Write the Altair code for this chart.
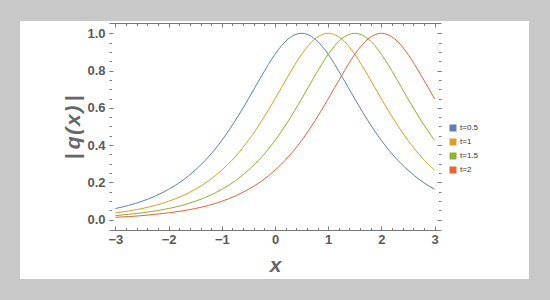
import altair as alt
import pandas as pd

# ---- data ----
x_vals = [-3.0, -2.75, -2.5, -2.25, -2.0, -1.75, -1.5, -1.25, -1.0, -0.75, -0.5, -0.25,
          0.0, 0.25, 0.5, 0.75, 1.0, 1.25, 1.5, 1.75, 2.0, 2.25, 2.5, 2.75, 3.0]
q_t05 = [0.060, 0.077, 0.099, 0.127, 0.163, 0.208, 0.266, 0.337, 0.425, 0.530, 0.648, 0.772,
         0.887, 0.970, 1.000, 0.970, 0.887, 0.772, 0.648, 0.530, 0.425, 0.337, 0.266, 0.208, 0.163]
q_t1 = [0.037, 0.047, 0.060, 0.077, 0.099, 0.127, 0.163, 0.208, 0.266, 0.337, 0.425, 0.530,
        0.648, 0.772, 0.887, 0.970, 1.000, 0.970, 0.887, 0.772, 0.648, 0.530, 0.425, 0.337, 0.266]
q_t15 = [0.022, 0.029, 0.037, 0.047, 0.060, 0.077, 0.099, 0.127, 0.163, 0.208, 0.266, 0.337,
         0.425, 0.530, 0.648, 0.772, 0.887, 0.970, 1.000, 0.970, 0.887, 0.772, 0.648, 0.530, 0.425]
q_t2 = [0.013, 0.017, 0.022, 0.029, 0.037, 0.047, 0.060, 0.077, 0.099, 0.127, 0.163, 0.208,
        0.266, 0.337, 0.425, 0.530, 0.648, 0.772, 0.887, 0.970, 1.000, 0.970, 0.887, 0.772, 0.648]
series_labels = ["t=0.5", "t=1", "t=1.5", "t=2"]
series_colors = ["#5E81B5", "#E19C24", "#8FB032", "#EB6235"]
x_major = [-3, -2, -1, 0, 1, 2, 3]
x_minor = [-3.0, -2.8, -2.6, -2.4, -2.2, -2.0, -1.8, -1.6, -1.4, -1.2, -1.0, -0.8, -0.6, -0.4, -0.2,
           0.0, 0.2, 0.4, 0.6, 0.8, 1.0, 1.2, 1.4, 1.6, 1.8, 2.0, 2.2, 2.4, 2.6, 2.8, 3.0]
y_major = [0.0, 0.2, 0.4, 0.6, 0.8, 1.0]
y_minor = [0.0, 0.05, 0.1, 0.15, 0.2, 0.25, 0.3, 0.35, 0.4, 0.45, 0.5, 0.55, 0.6, 0.65, 0.7,
           0.75, 0.8, 0.85, 0.9, 0.95, 1.0]
y_title = "|\u2009q\u200a(\u200ax\u200a)\u2009|"

rows = []
for lab, vals in zip(series_labels, [q_t05, q_t1, q_t15, q_t2]):
    for xv, yv in zip(x_vals, vals):
        rows.append({"x": xv, "q": yv, "t": lab})
df = pd.DataFrame(rows)
legend_df = pd.DataFrame({"t": series_labels})

xs = alt.Scale(domain=[-3.12, 3.12], nice=False, zero=False)
ys = alt.Scale(domain=[-0.055, 1.055], nice=False, zero=False)
cs = alt.Scale(domain=series_labels, range=series_colors)

FRAME = "#7a7a7a"
LABEL = "#5a5a5a"
FONT = "Liberation Sans"


def ax(orient, **kw):
    base = dict(orient=orient, labels=False, ticks=False, domain=False, grid=False,
                title=None, zindex=1, tickColor=FRAME, domainColor=FRAME)
    base.update(kw)
    return alt.Axis(**base)


def ticks(orient, values, size):
    return ax(orient, ticks=True, values=values, tickSize=size, offset=-size, tickWidth=1)


bg = alt.Chart(pd.DataFrame({"a": [0]})).mark_rect(color="white").encode(
    x=alt.value(-89), x2=alt.value(420), y=alt.value(-2), y2=alt.value(256)
)

lines = alt.Chart(df).mark_line(strokeWidth=1.0, interpolate="monotone").encode(
    x=alt.X("x:Q", scale=xs, axis=ax(
        "bottom", labels=True, domain=True, values=x_major, format="d",
        labelFont=FONT, labelFontSize=13, labelFontWeight="bold", labelColor=LABEL,
        labelPadding=3, title="x", titleFont=FONT, titleFontSize=21, titleFontWeight="bold",
        titleFontStyle="italic", titleColor="#666666", titleX=166, titleY=35,
        titleBaseline="middle", titleAlign="center")),
    y=alt.Y("q:Q", scale=ys, axis=ax(
        "left", labels=True, values=y_major, format=".1f",
        labelFont=FONT, labelFontSize=13, labelFontWeight="bold", labelColor=LABEL,
        labelPadding=4, title=y_title, titleFont=FONT, titleFontSize=21,
        titleFontWeight="bold", titleFontStyle="italic", titleColor="#666666",
        titleX=-36, titleY=104, titleBaseline="middle", titleAlign="center")),
    color=alt.Color("t:N", scale=cs, legend=None),
)

legend_layer = alt.Chart(legend_df).mark_square(size=0, filled=True, opacity=1).encode(
    x=alt.value(0), y=alt.value(0),
    color=alt.Color("t:N", scale=cs, legend=alt.Legend(
        orient="none", legendX=340, legendY=101, title=None,
        symbolType="square", symbolSize=49, labelFontSize=8,
        labelFont=FONT, labelColor="#333333", rowPadding=6, padding=0,
        labelOffset=3, symbolStrokeWidth=0, symbolOpacity=1)),
)


def deco(xaxis, yaxis):
    return alt.Chart(df).mark_point(opacity=0).encode(
        x=alt.X("x:Q", scale=xs, axis=xaxis),
        y=alt.Y("q:Q", scale=ys, axis=yaxis),
    )


l2 = deco(ticks("bottom", x_major, 4), ticks("left", y_major, 4))
l3 = deco(ticks("bottom", x_minor, 2.5), ticks("left", y_minor, 2.5))
l4 = deco(ax("top", domain=True), ticks("right", y_major, 4))
l5 = deco(ticks("top", x_major, 4), ticks("right", y_minor, 2.5))
l6 = deco(ticks("top", x_minor, 2.5), ax("left"))

chart = alt.layer(bg, lines, legend_layer, l2, l3, l4, l5, l6).resolve_axis(
    x="independent", y="independent"
).resolve_legend(color="independent").properties(
    width=332, height=207, background="#c8c8c8",
    padding={"left": 109, "top": 23, "right": 109, "bottom": 70},
    autosize=alt.AutoSizeParams(type="none"),
).configure_view(strokeWidth=0)

chart.save("out.html", embed_options={"renderer": "svg", "actions": False})
